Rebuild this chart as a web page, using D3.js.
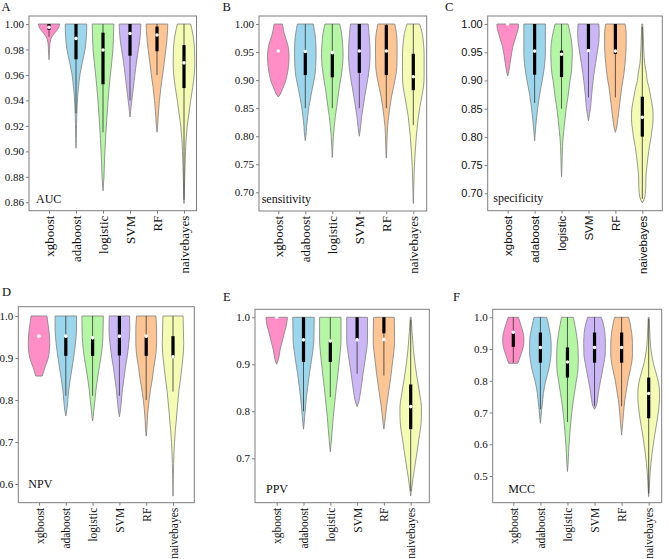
<!DOCTYPE html>
<html><head><meta charset="utf-8">
<script src="https://cdn.jsdelivr.net/npm/d3@7"></script>
<style>body{margin:0;background:#fff}svg{display:block}</style>
</head><body>
<svg id="chart" width="669" height="559"></svg>
<script>
const models = ["xgboost","adaboost","logistic","SVM","RF","naivebayes"];
const fillColors = ["#FF8EC6","#9BD6EC","#B4F6A4","#CBB6F6","#FCC593","#F3FCB2"];
const metrics = ["AUC","sensitivity","specificity","NPV","PPV","MCC"];
const panelLetters = ["A","B","C","D","E","F"];
const yTickValues = [
  [0.86,0.88,0.90,0.92,0.94,0.96,0.98,1.00],
  [0.70,0.75,0.80,0.85,0.90,0.95,1.00],
  [0.70,0.75,0.80,0.85,0.90,0.95,1.00],
  [0.6,0.7,0.8,0.9,1.0],
  [0.7,0.8,0.9,1.0],
  [0.5,0.6,0.7,0.8,0.9,1.0]
];
const yTickDecimals = [2,2,2,1,1,1];
const yDomains = [[0.8534,1.0063],[0.6667,1.0143],[0.6692,1.0142],[0.5555,1.0221],[0.6055,1.017],[0.4159,1.0252]];

// violin outlines: [value, relative half-width]
const aucViolins = [
  [[1.0,1.0],[0.9975,0.9],[0.995,0.72],[0.9925,0.48],[0.99,0.27],[0.9875,0.15],[0.985,0.09],[0.98,0.05],[0.972,0]],
  [[1.0,1.0],[0.995,0.99],[0.99,0.96],[0.985,0.91],[0.98,0.84],[0.975,0.72],[0.969,0.57],[0.961,0.38],[0.951,0.24],[0.943,0.15],[0.935,0.1],[0.922,0.05],[0.91,0.03],[0.9025,0]],
  [[1.0,1.0],[0.99,0.97],[0.98,0.92],[0.97,0.81],[0.96,0.68],[0.95,0.57],[0.94,0.47],[0.93,0.39],[0.92,0.31],[0.91,0.24],[0.90,0.18],[0.89,0.13],[0.88,0.09],[0.869,0]],
  [[1.0,1.0],[0.995,0.98],[0.99,0.94],[0.985,0.87],[0.98,0.78],[0.975,0.68],[0.97,0.6],[0.965,0.52],[0.96,0.45],[0.955,0.38],[0.95,0.31],[0.945,0.24],[0.94,0.17],[0.935,0.1],[0.931,0.05],[0.927,0]],
  [[1.0,1.0],[0.995,0.98],[0.99,0.94],[0.985,0.89],[0.98,0.82],[0.97,0.67],[0.96,0.52],[0.95,0.36],[0.94,0.23],[0.93,0.13],[0.92,0.06],[0.915,0]],
  [[1.0,0.62],[0.995,0.75],[0.99,0.86],[0.985,0.94],[0.98,0.98],[0.97,1.0],[0.96,0.95],[0.95,0.8],[0.94,0.62],[0.93,0.46],[0.92,0.3],[0.91,0.2],[0.90,0.14],[0.89,0.1],[0.88,0.07],[0.87,0.04],[0.859,0]]
];
const sensViolins = [
  [[1.0,0.38],[0.99,0.48],[0.983,0.55],[0.975,0.68],[0.966,0.83],[0.955,0.95],[0.942,1.0],[0.924,0.94],[0.906,0.78],[0.895,0.62],[0.888,0.47],[0.88,0.3],[0.875,0.18],[0.87,0]],
  [[1.0,0.73],[0.983,0.89],[0.966,0.98],[0.948,1.0],[0.924,0.96],[0.906,0.87],[0.888,0.68],[0.87,0.5],[0.853,0.34],[0.835,0.22],[0.817,0.12],[0.80,0.06],[0.792,0]],
  [[1.0,0.68],[0.983,0.86],[0.966,0.95],[0.948,1.0],[0.924,0.94],[0.906,0.82],[0.888,0.66],[0.87,0.53],[0.853,0.41],[0.835,0.28],[0.817,0.18],[0.80,0.1],[0.781,0.05],[0.762,0]],
  [[1.0,0.82],[0.983,0.9],[0.966,0.97],[0.948,1.0],[0.924,0.94],[0.906,0.82],[0.888,0.66],[0.87,0.5],[0.853,0.36],[0.835,0.22],[0.817,0.12],[0.806,0.05],[0.80,0]],
  [[1.0,0.78],[0.983,0.94],[0.966,1.0],[0.948,1.0],[0.924,0.98],[0.906,0.86],[0.888,0.67],[0.87,0.48],[0.853,0.34],[0.835,0.22],[0.817,0.12],[0.79,0.06],[0.77,0.03],[0.761,0]],
  [[1.0,0.58],[0.983,0.83],[0.966,0.94],[0.948,1.0],[0.924,1.0],[0.906,1.0],[0.888,0.94],[0.87,0.78],[0.853,0.62],[0.835,0.47],[0.817,0.37],[0.80,0.28],[0.781,0.21],[0.763,0.15],[0.746,0.1],[0.722,0.06],[0.70,0.03],[0.68,0]]
];
const specViolins = [
  [[1.0,1.0],[0.995,0.99],[0.99,0.95],[0.9835,0.85],[0.9717,0.67],[0.96,0.48],[0.95,0.38],[0.94,0.3],[0.93,0.22],[0.918,0.12],[0.912,0.06],[0.908,0]],
  [[1.0,1.0],[0.97,1.0],[0.95,1.0],[0.93,0.94],[0.91,0.8],[0.90,0.71],[0.889,0.6],[0.871,0.43],[0.85,0.28],[0.83,0.16],[0.812,0.08],[0.793,0]],
  [[1.0,0.6],[0.9835,0.8],[0.966,0.95],[0.948,1.0],[0.93,0.97],[0.91,0.88],[0.90,0.79],[0.871,0.6],[0.85,0.43],[0.83,0.31],[0.812,0.21],[0.80,0.15],[0.783,0.09],[0.765,0.06],[0.747,0.04],[0.7295,0]],
  [[1.0,0.97],[0.9835,1.0],[0.966,0.95],[0.95,0.82],[0.93,0.66],[0.91,0.5],[0.90,0.44],[0.889,0.37],[0.871,0.28],[0.85,0.18],[0.84,0.1],[0.8285,0]],
  [[1.0,0.9],[0.9835,1.0],[0.966,1.0],[0.95,0.98],[0.93,0.9],[0.91,0.78],[0.90,0.7],[0.889,0.6],[0.871,0.48],[0.85,0.35],[0.83,0.22],[0.815,0.1],[0.808,0]],
  [[1.0,0.04],[0.9835,0.08],[0.966,0.11],[0.95,0.15],[0.93,0.22],[0.91,0.4],[0.90,0.45],[0.889,0.6],[0.871,0.78],[0.85,0.97],[0.842,1.0],[0.83,1.0],[0.812,0.9],[0.80,0.82],[0.783,0.66],[0.765,0.53],[0.75,0.44],[0.729,0.34],[0.71,0.32],[0.70,0.28],[0.69,0.18],[0.683,0]]
];
const npvViolins = [
  [[1.0,0.74],[0.9825,0.83],[0.967,0.92],[0.95,0.98],[0.935,1.0],[0.919,0.97],[0.899,0.85],[0.879,0.57],[0.857,0.3]],
  [[1.0,1.0],[0.967,1.0],[0.935,0.9],[0.899,0.72],[0.879,0.6],[0.848,0.41],[0.824,0.28],[0.80,0.19],[0.776,0.1],[0.762,0]],
  [[1.0,1.0],[0.967,0.98],[0.935,0.93],[0.899,0.76],[0.879,0.63],[0.848,0.44],[0.824,0.31],[0.80,0.22],[0.776,0.12],[0.76,0.06],[0.75,0]],
  [[1.0,0.95],[0.967,0.97],[0.935,0.88],[0.899,0.7],[0.879,0.57],[0.848,0.41],[0.824,0.28],[0.80,0.19],[0.776,0.1],[0.76,0]],
  [[1.0,0.9],[0.967,0.97],[0.935,0.97],[0.899,0.85],[0.879,0.72],[0.848,0.56],[0.824,0.4],[0.80,0.27],[0.776,0.17],[0.752,0.1],[0.729,0.06],[0.714,0]],
  [[1.0,0.94],[0.967,0.97],[0.935,1.0],[0.899,0.92],[0.879,0.83],[0.848,0.69],[0.824,0.56],[0.80,0.47],[0.776,0.38],[0.752,0.31],[0.729,0.22],[0.699,0.14],[0.673,0.09],[0.649,0.06],[0.61,0.03],[0.571,0]]
];
const ppvViolins = [
  [[1.0,1.0],[0.98,0.88],[0.97,0.75],[0.95,0.53],[0.93,0.31],[0.91,0.16],[0.90,0]],
  [[1.0,1.0],[0.95,0.97],[0.93,0.88],[0.90,0.69],[0.881,0.56],[0.85,0.38],[0.831,0.28],[0.81,0.19],[0.789,0.11],[0.775,0.06],[0.762,0]],
  [[1.0,1.0],[0.95,1.0],[0.93,0.94],[0.90,0.81],[0.881,0.72],[0.85,0.56],[0.831,0.47],[0.81,0.38],[0.789,0.28],[0.762,0.19],[0.739,0.1],[0.725,0.05],[0.714,0]],
  [[1.0,0.97],[0.95,0.97],[0.93,0.88],[0.90,0.69],[0.881,0.56],[0.85,0.38],[0.831,0.25],[0.817,0.12],[0.81,0]],
  [[1.0,0.97],[0.95,1.0],[0.93,0.94],[0.90,0.78],[0.881,0.69],[0.85,0.5],[0.831,0.38],[0.81,0.25],[0.789,0.14],[0.775,0.08],[0.762,0]],
  [[1.0,0.04],[0.97,0.12],[0.95,0.19],[0.93,0.26],[0.90,0.41],[0.881,0.53],[0.858,0.69],[0.831,0.88],[0.81,1.0],[0.789,1.0],[0.762,0.91],[0.739,0.75],[0.7145,0.6],[0.70,0.5],[0.676,0.34],[0.654,0.19],[0.635,0.09],[0.62,0]]
];
const mccViolins = [
  [[1.0,0.47],[0.981,0.65],[0.953,0.89],[0.934,0.98],[0.918,0.97],[0.9075,0.92],[0.881,0.69],[0.855,0.42]],
  [[1.0,0.58],[0.981,0.72],[0.953,0.88],[0.934,0.97],[0.9075,1.0],[0.881,0.98],[0.855,0.88],[0.834,0.76],[0.80,0.5],[0.78,0.37],[0.76,0.28],[0.74,0.22],[0.71,0.12],[0.686,0.06],[0.666,0]],
  [[1.0,0.55],[0.953,0.8],[0.9075,0.97],[0.871,1.0],[0.834,0.97],[0.80,0.82],[0.76,0.64],[0.74,0.55],[0.70,0.4],[0.666,0.3],[0.629,0.21],[0.60,0.15],[0.571,0.1],[0.54,0.06],[0.514,0]],
  [[1.0,0.63],[0.981,0.8],[0.953,0.95],[0.918,1.0],[0.881,0.98],[0.855,0.86],[0.834,0.74],[0.80,0.56],[0.78,0.44],[0.76,0.35],[0.74,0.27],[0.72,0.15],[0.71,0]],
  [[1.0,0.65],[0.981,0.78],[0.953,0.92],[0.918,1.0],[0.881,1.0],[0.855,0.92],[0.834,0.8],[0.80,0.58],[0.76,0.4],[0.74,0.3],[0.70,0.18],[0.666,0.1],[0.629,0]],
  [[1.0,0.04],[0.953,0.1],[0.9075,0.18],[0.855,0.43],[0.81,0.8],[0.78,0.97],[0.76,1.0],[0.74,0.99],[0.71,0.92],[0.68,0.8],[0.655,0.68],[0.629,0.55],[0.60,0.43],[0.571,0.31],[0.54,0.21],[0.514,0.14],[0.487,0.09],[0.46,0.05],[0.435,0]]
];

// box statistics: [whisker low, q1, median, q3, whisker high]
const aucBoxes  = [[0.99,0.9955,0.9975,1.0,1.0],[0.93,0.9723,0.9887,1.0,1.0],[0.915,0.9527,0.9796,0.9932,1.0],[0.94,0.9751,0.9925,1.0,1.0],[0.96,0.9786,0.9914,0.998,1.0],[0.862,0.9497,0.9695,0.9835,1.0]];
const sensBoxes = [[0.952,0.952,0.952,0.952,0.952],[0.85,0.909,0.951,0.951,1.0],[0.85,0.905,0.949,0.949,1.0],[0.85,0.913,0.952,1.0,1.0],[0.85,0.909,0.952,0.998,1.0],[0.82,0.882,0.906,0.947,1.0]];
const specBoxes = [[1,1,1,1,1],[0.86,0.9102,0.952,1.0,1.0],[0.85,0.906,0.9463,0.953,1.0],[0.87,0.953,0.953,1.0,1.0],[0.87,0.947,0.952,1.0,1.0],[0.69,0.8005,0.8346,0.8711,0.995]];
const npvBoxes  = [[0.952,0.952,0.952,0.952,0.952],[0.81,0.905,0.952,0.95,1.0],[0.81,0.905,0.948,0.948,1.0],[0.81,0.906,0.952,1.0,1.0],[0.80,0.905,0.952,0.952,1.0],[0.82,0.90,0.903,0.952,1.0]];
const ppvBoxes  = [[1,1,1,1,1],[0.80,0.905,0.952,1.0,1.0],[0.83,0.905,0.9496,0.95,1.0],[0.88,0.952,0.952,1.0,1.0],[0.876,0.966,0.953,1.0,1.0],[0.63,0.762,0.81,0.857,0.995]];
const mccBoxes  = [[0.857,0.907,0.953,0.953,1.0],[0.71,0.857,0.905,0.952,1.0],[0.67,0.81,0.859,0.905,1.0],[0.72,0.857,0.905,0.952,1.0],[0.72,0.857,0.905,0.952,1.0],[0.445,0.682,0.76,0.81,0.995]];

const allViolins = [aucViolins, sensViolins, specViolins, npvViolins, ppvViolins, mccViolins];
const allBoxes = [aucBoxes, sensBoxes, specBoxes, npvBoxes, ppvBoxes, mccBoxes];

// layout (pixels)
const SERIF = "'Liberation Serif','Times New Roman',serif";
const SANS = "'Liberation Sans',Arial,sans-serif";
const layout = [
  {l:29,   r:196.5, t:16,    b:210.7, c0:49,    c1:184,   font:SERIF, tick:11, lab:13,   letter:[1.5,10.5], name:[36,203.3]},
  {l:259,  r:426.7, t:16,    b:211,   c0:278.3, c1:413.3, font:SERIF, tick:11, lab:13,   letter:[222.5,10.5], name:[261.7,202.7]},
  {l:487.7,r:662.3, t:16,    b:210.7, c0:507.7, c1:642.3, font:SANS,  tick:11, lab:11.5, letter:[445,11], name:[493.3,201.7]},
  {l:18.3, r:194.3, t:306.7, b:502.7, c0:39,    c1:173,   font:SERIF, tick:11, lab:11.5, letter:[2,296],   name:[28.3,488.3]},
  {l:255,  r:429.3, t:309.3, b:502.7, c0:276.7, c1:410.7, font:SERIF, tick:11, lab:11.5, letter:[223,300.5], name:[266,493.3]},
  {l:492.7,r:661.7, t:309.3, b:502.7, c0:513.3, c1:648.7, font:SERIF, tick:11, lab:11.5, letter:[453,300.5], name:[508.3,493.3]}
];

const svg = d3.select("#chart");
const GREY = "#7f7f7f";

metrics.forEach((metric, p) => {
  const L = layout[p];
  const g = svg.append("g");
  const y = d3.scaleLinear().domain(yDomains[p]).range([L.b, L.t]);
  const x = d3.scaleLinear().domain([1, models.length]).range([L.c0, L.c1]);
  const step = (L.c1 - L.c0) / (models.length - 1);
  const w = d3.scaleLinear().domain([0, 1]).range([0, 0.4 * step]);

  allViolins[p].forEach((prof, i) => {
    const cx = x(i + 1);
    const area = d3.area()
      .y(d => y(d[0]))
      .x0(d => cx - w(d[1]))
      .x1(d => cx + w(d[1]))
      .curve(d3.curveMonotoneY);
    g.append("path").datum(prof).attr("d", area)
      .attr("fill", fillColors[i]).attr("stroke", GREY).attr("stroke-width", 0.8);
    const [lo, q1, med, q3, hi] = allBoxes[p][i];
    if (hi > lo) {
      g.append("line").attr("x1", cx).attr("x2", cx).attr("y1", y(lo)).attr("y2", y(hi))
        .attr("stroke", "#333").attr("stroke-width", 0.8);
    }
    if (q3 > q1) {
      g.append("rect").attr("x", cx - 1.6).attr("width", 3.2)
        .attr("y", y(q3)).attr("height", y(q1) - y(q3)).attr("fill", "#000");
    }
    g.append("circle").attr("cx", cx).attr("cy", y(med)).attr("r", 1.8).attr("fill", "#fff");
  });

  g.append("rect").attr("x", L.l).attr("y", L.t).attr("width", L.r - L.l).attr("height", L.b - L.t)
    .attr("fill", "none").attr("stroke", GREY).attr("stroke-width", 1);

  const ya = g.append("g").attr("transform", `translate(${L.l},0)`)
    .call(d3.axisLeft(y).tickValues(yTickValues[p]).tickSize(3).tickPadding(2)
      .tickFormat(d3.format("." + yTickDecimals[p] + "f")));
  ya.select(".domain").remove();
  ya.selectAll("line").attr("stroke", GREY);
  ya.selectAll("text").attr("font-family", L.font).attr("font-size", L.tick).attr("fill", "#111");

  const xa = g.append("g").attr("transform", `translate(0,${L.b})`)
    .call(d3.axisBottom(x).tickValues(d3.range(1, models.length + 1)).tickSize(3)
      .tickFormat(d => models[d - 1]));
  xa.select(".domain").remove();
  xa.selectAll("line").attr("stroke", GREY);
  xa.selectAll("text").attr("font-family", L.font).attr("font-size", L.lab).attr("fill", "#111")
    .attr("transform", "rotate(-90)").attr("text-anchor", "end")
    .attr("x", -5).attr("y", 0).attr("dy", "0.35em");

  g.append("text").attr("x", L.name[0]).attr("y", L.name[1]).text(metric)
    .attr("font-family", SERIF).attr("font-size", 12).attr("fill", "#111");
  g.append("text").attr("x", L.letter[0]).attr("y", L.letter[1]).text(panelLetters[p])
    .attr("font-family", SERIF).attr("font-size", 12.5).attr("fill", "#111");
});
</script>
</body></html>
